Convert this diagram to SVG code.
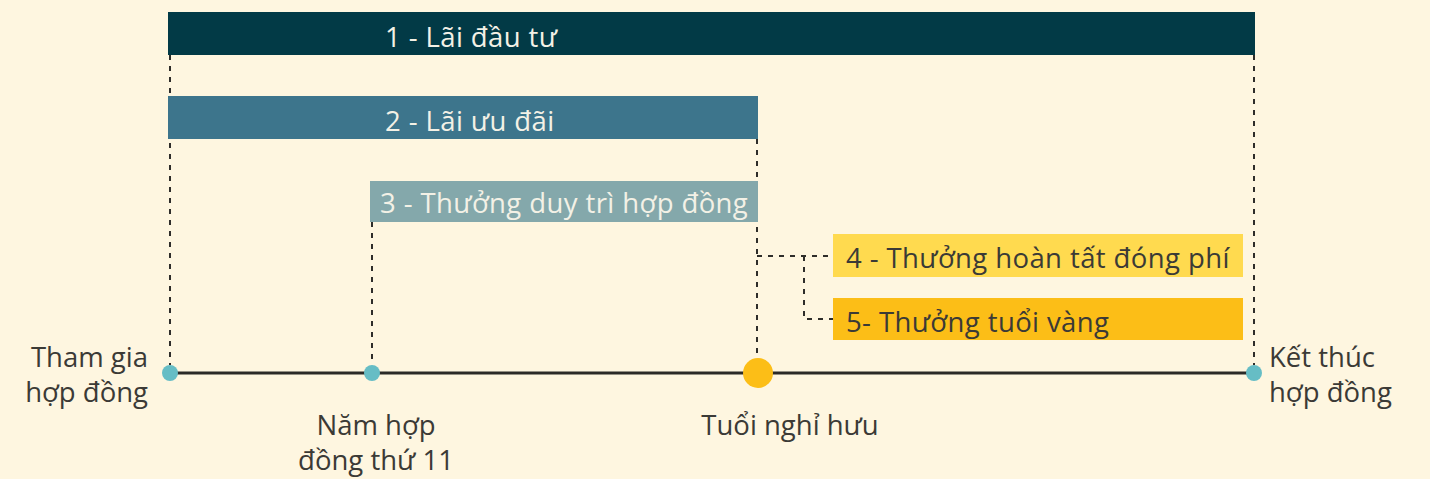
<svg xmlns="http://www.w3.org/2000/svg" width="1430" height="479" viewBox="0 0 1430 479">
<style>
.bt{font-family:"Open Sans","Noto Sans",sans-serif;font-size:27.5px;letter-spacing:0.4px;fill:#f3f1e6}
.dt{font-family:"Open Sans","Noto Sans",sans-serif;font-size:27.5px;letter-spacing:0.4px;fill:#3b3a36}
.lb{font-family:"Open Sans","Noto Sans",sans-serif;font-size:27.5px;fill:#3b3a36}
.dash{fill:none;stroke:#2e2d2a;stroke-width:2;stroke-dasharray:5 6}
.dot{fill:#66bdc5}
</style>
<rect width="1430" height="479" fill="#fef6e0"/>
<g id="connectors">
<path class="dash" d="M170 55V365"/>
<path class="dash" d="M1254 55V365"/>
<path class="dash" d="M372 222V365"/>
<path class="dash" d="M757 139V358"/>
<path class="dash" d="M757 256H833"/>
<path class="dash" d="M804 256V319H833"/>
<path d="M170 373H1254" stroke="#2b2a27" stroke-width="3"/>
</g>
<g id="bar1"><rect x="168" y="12" width="1087" height="43" fill="#023a46"/><text class="bt" x="385" y="47">1 - Lãi đầu tư</text></g>
<g id="bar2"><rect x="168" y="96" width="590" height="43" fill="#3d758c"/><text class="bt" x="385" y="131">2 - Lãi ưu đãi</text></g>
<g id="bar3"><rect x="370" y="181" width="388" height="41" fill="#84a8ab"/><text class="bt" x="380" y="213">3 - Thưởng duy trì hợp đồng</text></g>
<g id="bar4"><rect x="833" y="234" width="410" height="43" fill="#ffda4f"/><text class="dt" x="846" y="268">4 - Thưởng hoàn tất đóng phí</text></g>
<g id="bar5"><rect x="833" y="298" width="410" height="42" fill="#fcbe17"/><text class="dt" x="846" y="332">5- Thưởng tuổi vàng</text></g>
<g id="start"><circle class="dot" cx="170" cy="373" r="8"/><text class="lb" x="148" y="367" text-anchor="end">Tham gia</text><text class="lb" x="148" y="402" text-anchor="end">hợp đồng</text></g>
<g id="year11"><circle class="dot" cx="372" cy="373" r="8"/><text class="lb" x="376" y="435" text-anchor="middle">Năm hợp</text><text class="lb" x="376" y="470" text-anchor="middle">đồng thứ 11</text></g>
<g id="retire"><circle cx="758" cy="373" r="15" fill="#fcbe17"/><text class="lb" x="790" y="435" text-anchor="middle">Tuổi nghỉ hưu</text></g>
<g id="end"><circle class="dot" cx="1254" cy="373" r="8"/><text class="lb" x="1269" y="367">Kết thúc</text><text class="lb" x="1269" y="402">hợp đồng</text></g>
</svg>
